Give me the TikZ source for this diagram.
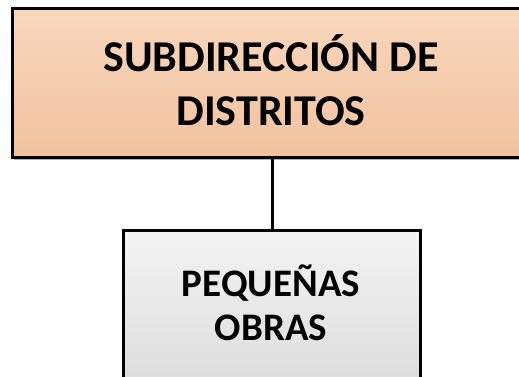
\documentclass[tikz,border=0pt]{standalone}
\usepackage{fontspec}
\setmainfont{Carlito}
\begin{document}
\begin{tikzpicture}[x=1pt,y=-1pt,
  boxline/.style={draw=black,line width=3pt},
  topbox/.style={boxline,top color=orangeTop,bottom color=orangeBot},
  lowbox/.style={boxline,top color=grayTop,bottom color=grayBot},
  lbl/.style={font=\bfseries,align=center,text=black}]
\definecolor{orangeTop}{HTML}{F8D7BE}
\definecolor{orangeBot}{HTML}{F2C29D}
\definecolor{grayTop}{HTML}{F3F3F3}
\definecolor{grayBot}{HTML}{D9D9D9}
\useasboundingbox (0,0) rectangle (519,376);
% shadow
\fill[black!30] (13.5,9.5) rectangle (534,159.5);
\path[topbox] (12,8) rectangle (532,157);
\coordinate (tb) at (272,157);
\node[lbl,font=\bfseries\fontsize{44}{54}\selectfont] (top) at (271,80) {SUBDIRECCIÓN DE\\DISTRITOS};
\path[lowbox] (123,230) rectangle (420,410);
\coordinate (lt) at (272,230);
\node[lbl,font=\bfseries\fontsize{39}{44}\selectfont] (low) at (271,303) {PEQUEÑAS\\OBRAS};
\draw[line width=3pt] (tb) -- (lt);
\end{tikzpicture}
\end{document}
